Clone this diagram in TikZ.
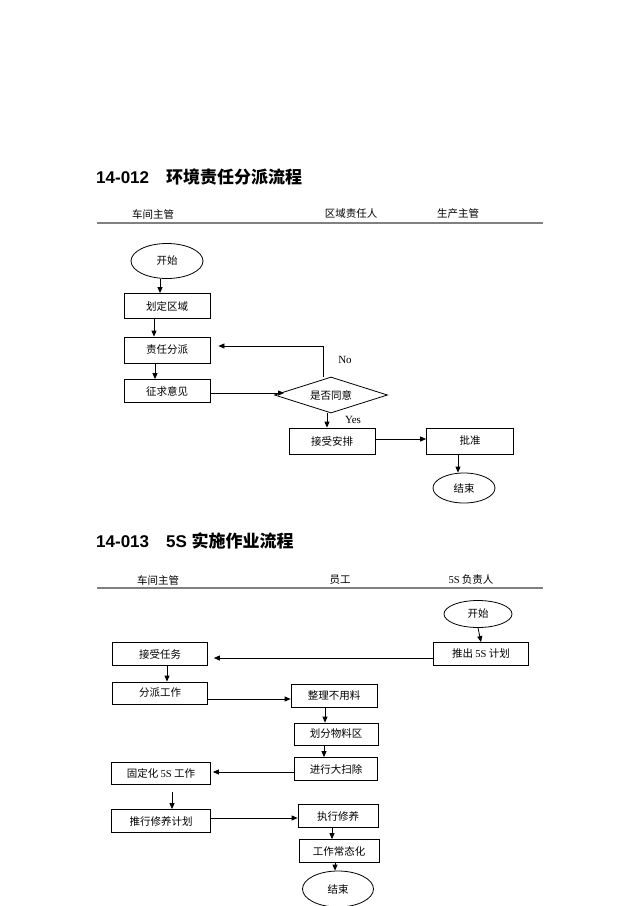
\documentclass[tikz,border=0pt]{standalone}
\usepackage{fontspec}
\setmainfont{Liberation Serif}
\newfontfamily\cjk{Noto Sans CJK SC}
\newfontfamily\titlesans{Liberation Sans}
\newcommand\lat[1]{{\rmfamily #1}}
\usetikzlibrary{shapes.geometric,arrows.meta}

\begin{document}
\begin{tikzpicture}[x=1pt,y=-1pt,
  box/.style={draw,line width=0.8pt,inner sep=0pt,minimum height=23,
    font=\fontsize{10.5}{12}\selectfont\cjk},
  term/.style={box,ellipse},
  decide/.style={box,diamond,aspect=3},
  flow/.style={line width=0.8pt,-{Triangle[length=6pt,width=5pt]}},
  lane/.style={font=\fontsize{10.5}{12}\selectfont\cjk},
  rule/.style={gray,line width=1.3pt},
  heading/.style={anchor=west,inner sep=0pt,font=\fontsize{17}{20}\selectfont\bfseries},
  tag/.style={font=\fontsize{11}{12}\selectfont}]
\useasboundingbox (0,0) rectangle (640,906);
\begin{scope}
  \node[heading] (title1) at (96,177) {\titlesans 14-012\quad\cjk 环境责任分派流程};
  \node[lane] (lanea1) at (153,214) {车间主管};
  \node[lane] (laneb1) at (351,214) {区域责任人};
  \node[lane] (lanec1) at (458,214) {生产主管};
  \draw[rule] (97,223) -- (543,223);
  \node[term,minimum width=72,minimum height=35] (start1) at (167,261) {开始};
  \node[box,minimum width=86,minimum height=25] (zone) at (167,306) {划定区域};
  \node[box,minimum width=86,minimum height=26] (assign) at (167,350) {责任分派};
  \node[box,minimum width=86] (ask) at (167,391) {征求意见};
  \node[decide,minimum width=113,minimum height=36] (agree) at (331,395) {是否同意};
  \node[box,minimum width=86,minimum height=26] (accept) at (332,441) {接受安排};
  \node[box,minimum width=87,minimum height=26] (approve) at (470,441) {批准};
  \node[term,minimum width=62,minimum height=30] (end1) at (464,488) {结束};
  \node[tag] (no) at (345,360) {No};
  \node[tag] (yes) at (353,420) {Yes};
  \draw[flow] ([xshift=-7]start1.south) -- ([xshift=-7]start1.south |- zone.north);
  \draw[flow] ([xshift=-13]zone.south) -- ([xshift=-13]assign.north);
  \draw[flow] ([xshift=-12]assign.south) -- ([xshift=-12]ask.north);
  \draw[flow] ([yshift=-2]ask.east) -- ([xshift=10,yshift=-2]ask.east -| agree.west);
  \draw[flow] ([xshift=-8]agree.north) |- ([xshift=8,yshift=4]assign.east);
  \draw[flow] ([xshift=-4]agree.south) -- ([xshift=-4]agree.south |- accept.north);
  \draw[flow] ([yshift=2]accept.east) -- ([yshift=2]approve.west);
  \draw[flow] ([xshift=-12]approve.south) -- ([xshift=-12]approve.south |- end1.north);
\end{scope}
\begin{scope}
  \node[heading] (title2) at (96,541) {\titlesans 14-013\quad 5S \cjk 实施作业流程};
  \node[lane] (lanea2) at (158,580) {车间主管};
  \node[lane] (laneb2) at (340,580) {员工};
  \node[lane] (lanec2) at (471,580) {\lat{5S} 负责人};
  \draw[rule] (97,588) -- (543,588);
  \node[term,minimum width=68,minimum height=27] (start2) at (478,614) {开始};
  \node[box,minimum width=95] (plan) at (481,654) {推出 \lat{5S} 计划};
  \node[box,minimum width=95] (task) at (160,654) {接受任务};
  \node[box,minimum width=95,minimum height=22] (divide) at (160,693) {分派工作};
  \node[box,minimum width=86] (sort) at (334,696) {整理不用料};
  \node[box,minimum width=84,minimum height=22] (area) at (336,734) {划分物料区};
  \node[box,minimum width=83] (sweep) at (336,769) {进行大扫除};
  \node[box,minimum width=99,minimum height=22] (fix) at (161,773) {固定化 \lat{5S} 工作};
  \node[box,minimum width=99] (promote) at (161,821) {推行修养计划};
  \node[box,minimum width=80] (exec) at (338,816) {执行修养};
  \node[box,minimum width=80] (normal) at (339,851) {工作常态化};
  \node[term,minimum width=71,minimum height=36] (end2) at (338,889) {结束};
  \draw[flow] (start2.south) -- (plan.north);
  \draw[flow] ([yshift=-4]plan.west) -- ([xshift=6,yshift=-4]task.east);
  \draw[flow] ([xshift=7]task.south) -- ([xshift=7]divide.north);
  \draw[flow] ([yshift=-6]divide.east) -- ([yshift=-6]divide.east -| sort.west);
  \draw[flow] ([xshift=-9]sort.south) -- ([xshift=-9]sort.south |- area.north);
  \draw[flow] ([xshift=-12]area.south) -- ([xshift=-12]sweep.north);
  \draw[flow] ([yshift=-3]sweep.west) -- ([xshift=2,yshift=-3]sweep.west -| fix.east);
  \draw[flow] ([xshift=11,yshift=-8]fix.south) -- ([xshift=11]promote.north);
  \draw[flow] ([yshift=3]promote.east) -- ([yshift=3]promote.east -| exec.west);
  \draw[flow] ([xshift=-6]exec.south) -- ([xshift=-6]exec.south |- normal.north);
  \draw[flow] ([xshift=-4]normal.south) -- ([xshift=-4]normal.south |- end2.north);
\end{scope}
\end{tikzpicture}
\end{document}
